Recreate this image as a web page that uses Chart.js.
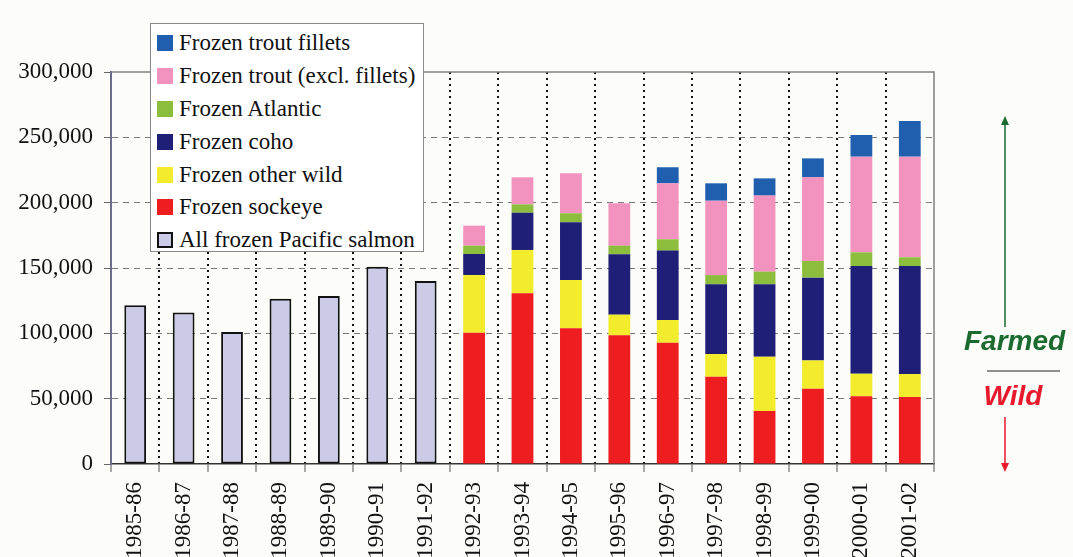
<!DOCTYPE html>
<html>
<head>
<meta charset="utf-8">
<script src="https://cdn.jsdelivr.net/npm/chart.js@4/dist/chart.umd.min.js"></script>
<style>
  html, body { margin: 0; padding: 0; background: #fcfcf9; overflow: hidden; }
  #wrap { position: relative; width: 1073px; height: 557px; }
  #legend {
    position: absolute; left: 150px; top: 23px; width: 274px; height: 229px;
    background: #fff; border: 1px solid #8a8a8a; padding-top: 3px; box-sizing: border-box;
    font-family: "Liberation Serif", "Times New Roman", serif; font-size: 23px; color: #111;
  }
  .row { display: flex; align-items: center; height: 32.8px; padding-left: 6px; white-space: nowrap; }
  .sw { width: 16px; height: 16px; margin-right: 6px; box-sizing: border-box; flex: none; }
</style>
</head>
<body>
<div id="wrap">
  <canvas id="chart" width="1073" height="557"></canvas>
  <div id="legend"></div>
</div>
<script>
const categories = ['1985-86', '1986-87', '1987-88', '1988-89', '1989-90', '1990-91', '1991-92', '1992-93', '1993-94',
  '1994-95', '1995-96', '1996-97', '1997-98', '1998-99', '1999-00', '2000-01', '2001-02'];

// tonnes
const pacific = [121500, 116000, 101000, 126500, 128500, 151000, 140000, null, null, null, null, null, null, null, null, null, null];
const sockeye = [null, null, null, null, null, null, null, 100500, 130600, 103800, 98500, 92800, 66800, 40600, 57600, 51800, 51300];
const otherWild = [null, null, null, null, null, null, null, 44100, 33200, 37000, 15800, 17400, 17400, 41500, 21700, 17300, 17600];
const coho = [null, null, null, null, null, null, null, 16100, 28500, 44200, 46200, 53100, 53300, 55400, 63300, 82400, 82600];
const atlantic = [null, null, null, null, null, null, null, 6400, 6400, 6900, 6600, 8700, 7100, 9700, 12800, 10500, 6700];
const trout = [null, null, null, null, null, null, null, 15300, 20700, 30600, 32400, 42800, 56900, 58200, 64000, 73200, 77000];
const troutFillets = [null, null, null, null, null, null, null, 0, 0, 0, 0, 12300, 13300, 13200, 14500, 16600, 27300];

const yTicks = [0, 50000, 100000, 150000, 200000, 250000, 300000];

const serif = '"Liberation Serif", "Times New Roman", serif';

const series = [
  { label: 'All frozen Pacific salmon', data: pacific, color: '#cbcbe8', border: '#111' },
  { label: 'Frozen sockeye', data: sockeye, color: '#ee1d1f' },
  { label: 'Frozen other wild', data: otherWild, color: '#f2ec2c' },
  { label: 'Frozen coho', data: coho, color: '#1f1f78' },
  { label: 'Frozen Atlantic', data: atlantic, color: '#8dbd3c' },
  { label: 'Frozen trout (excl. fillets)', data: trout, color: '#f292be' },
  { label: 'Frozen trout fillets', data: troutFillets, color: '#1f5fae' }
];

// legend box (top row is the last series)
const legendEl = document.getElementById('legend');
[...series.slice(1)].reverse().concat(series[0]).forEach(s => {
  const row = document.createElement('div');
  row.className = 'row';
  const sw = document.createElement('span');
  sw.className = 'sw';
  sw.style.background = s.color;
  if (s.border) sw.style.border = '2px solid ' + s.border;
  const txt = document.createElement('span');
  txt.textContent = s.label;
  row.appendChild(sw);
  row.appendChild(txt);
  legendEl.appendChild(row);
});

const frameAndNotes = {
  id: 'frameAndNotes',
  afterDatasetsDraw(chart) {
    const { ctx, chartArea: a } = chart;
    ctx.save();
    ctx.strokeStyle = '#808080';
    ctx.lineWidth = 1.5;
    ctx.beginPath();
    ctx.moveTo(a.left, a.top);
    ctx.lineTo(a.right, a.top);
    ctx.lineTo(a.right, a.bottom);
    ctx.stroke();
    ctx.restore();
  },
  afterDraw(chart) {
    const { ctx } = chart;
    const green = '#1b6b30';
    const red = '#e8192c';
    const ax = 1005;
    ctx.save();
    // farmed arrow (up)
    ctx.strokeStyle = green;
    ctx.fillStyle = green;
    ctx.lineWidth = 1.5;
    ctx.beginPath();
    ctx.moveTo(ax, 327);
    ctx.lineTo(ax, 124);
    ctx.stroke();
    ctx.beginPath();
    ctx.moveTo(ax, 116);
    ctx.lineTo(ax - 4, 125);
    ctx.lineTo(ax + 4, 125);
    ctx.closePath();
    ctx.fill();
    // wild arrow (down)
    ctx.strokeStyle = red;
    ctx.fillStyle = red;
    ctx.beginPath();
    ctx.moveTo(ax, 417);
    ctx.lineTo(ax, 464);
    ctx.stroke();
    ctx.beginPath();
    ctx.moveTo(ax, 472);
    ctx.lineTo(ax - 4, 463);
    ctx.lineTo(ax + 4, 463);
    ctx.closePath();
    ctx.fill();
    // divider
    ctx.strokeStyle = '#222';
    ctx.lineWidth = 1.2;
    ctx.beginPath();
    ctx.moveTo(987, 371);
    ctx.lineTo(1060, 371);
    ctx.stroke();
    ctx.font = 'italic bold 28px "Liberation Sans", Arial, sans-serif';
    ctx.textBaseline = 'alphabetic';
    ctx.fillStyle = green;
    ctx.textAlign = 'left';
    ctx.fillText('Farmed', 964, 350);
    ctx.fillStyle = red;
    ctx.textAlign = 'center';
    ctx.fillText('Wild', 1013, 405);
    ctx.restore();
  }
};

const datasets = series.map(s => ({
  label: s.label,
  data: s.data,
  backgroundColor: s.color,
  borderColor: s.border || s.color,
  borderWidth: s.border ? 2 : 0,
  borderSkipped: s.border ? false : 'start'
}));

new Chart(document.getElementById('chart').getContext('2d'), {
  type: 'bar',
  data: { labels: categories, datasets },
  plugins: [frameAndNotes],
  options: {
    responsive: false,
    animation: false,
    layout: { padding: { top: 72, right: 139, left: 0, bottom: 0 } },
    datasets: { bar: { categoryPercentage: 0.45, barPercentage: 1 } },
    plugins: { legend: { display: false }, tooltip: { enabled: false } },
    scales: {
      x: {
        stacked: true,
        afterFit: scale => { scale.height = 93; },
        grid: {
          offset: true,
          color: c => (c.index === undefined || c.index === 0) ? 'transparent' : '#111',
          lineWidth: 2,
          tickColor: '#555',
          tickLength: 8,
          tickWidth: 1
        },
        border: { display: true, color: '#333', width: 1.5, dash: [2, 4] },
        ticks: {
          autoSkip: false,
          minRotation: 90,
          maxRotation: 90,
          padding: 10,
          color: '#111',
          font: { family: serif, size: 23 }
        }
      },
      y: {
        stacked: true,
        min: 0,
        max: 300000,
        afterFit: scale => { scale.width = 111; },
        afterBuildTicks: scale => { scale.ticks = yTicks.map(v => ({ value: v })); },
        grid: {
          color: c => (c.tick && (c.tick.value === 0 || c.tick.value === 300000)) ? 'transparent' : '#7a7a7a',
          lineWidth: 1,
          tickColor: '#666',
          tickLength: 7
        },
        border: { display: true, color: '#6c6c8c', width: 2, dash: [6, 5] },
        ticks: {
          padding: 11,
          color: '#111',
          font: { family: serif, size: 23 },
          callback: v => v.toLocaleString('en-US')
        }
      }
    }
  }
});
</script>
</body>
</html>
